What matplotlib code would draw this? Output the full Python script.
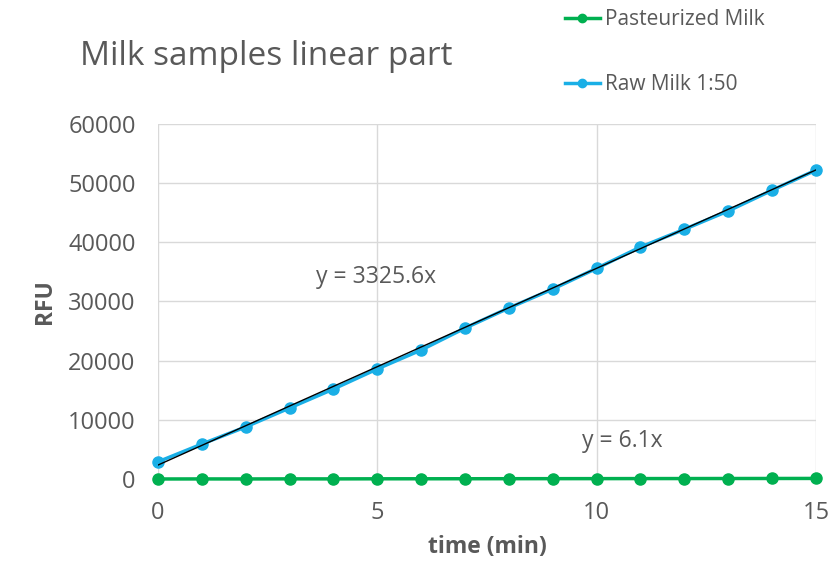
import numpy as np
import matplotlib.pyplot as plt

# ---- data: fluorescence readings over time ----
time_min = np.arange(0, 16)
raw_milk = [2900, 5900, 8800, 12000, 15200, 18600, 21800, 25500,
            28900, 32100, 35600, 39200, 42200, 45300, 48800, 52200]
pasteurized = [0, 10, 5, 20, 15, 30, 35, 40, 48, 55, 60, 68, 72, 80, 85, 92]

raw_slope = 3325.6
raw_icpt = 2350
past_slope = 6.1

grey = '#595959'
green = '#00B050'
blue = '#1AAFE6'

plt.rcParams['font.family'] = ['Open Sans', 'DejaVu Sans']

fig = plt.figure(figsize=(8.38, 5.61), dpi=100)
ax = fig.add_axes([0.1885, 0.1462, 0.7852, 0.6328])

ax.plot(time_min, pasteurized, color=green, lw=2.5, marker='o', ms=8,
        label='Pasteurized Milk', zorder=3, clip_on=False)
ax.plot(time_min, raw_milk, color=blue, lw=2.5, marker='o', ms=8,
        label='Raw Milk 1:50', zorder=3, clip_on=False)

# linear trendlines
ax.plot(time_min, raw_slope * time_min + raw_icpt, color='black', lw=1.0, zorder=4)
ax.plot(time_min, past_slope * time_min, color='black', lw=1.0, zorder=2)

ax.set_xlim(0, 15)
ax.set_ylim(0, 60000)
ax.set_xticks([0, 5, 10, 15])
ax.set_yticks(np.arange(0, 60001, 10000))
ax.grid(True, color='#d9d9d9', lw=1)
ax.set_axisbelow(True)
for s in ax.spines.values():
    s.set_visible(False)
ax.tick_params(length=0, labelsize=17, colors=grey, pad=16)

ax.set_xlabel('time (min)', fontsize=16.5, fontweight='bold', color=grey, labelpad=7)
ax.set_ylabel('RFU', fontsize=16.5, fontweight='bold', color=grey, labelpad=8)

ax.text(3.6, 34100, 'y = 3325.6x', fontsize=16.5, color=grey, va='center')
ax.text(9.66, 6400, 'y = 6.1x', fontsize=16.5, color=grey, va='center')

fig.text(0.095, 0.9, 'Milk samples linear part', fontsize=24, color=grey, va='center')

leg = ax.legend(loc='upper left', bbox_to_anchor=(0.664, 0.998), bbox_transform=fig.transFigure,
                frameon=False, fontsize=15, labelspacing=2.1, handlelength=1.7,
                handletextpad=0.25, borderaxespad=0)
for t in leg.get_texts():
    t.set_color(grey)
for h in leg.legend_handles:
    h.set_markersize(6)

fig.savefig('out.png', dpi=100)
